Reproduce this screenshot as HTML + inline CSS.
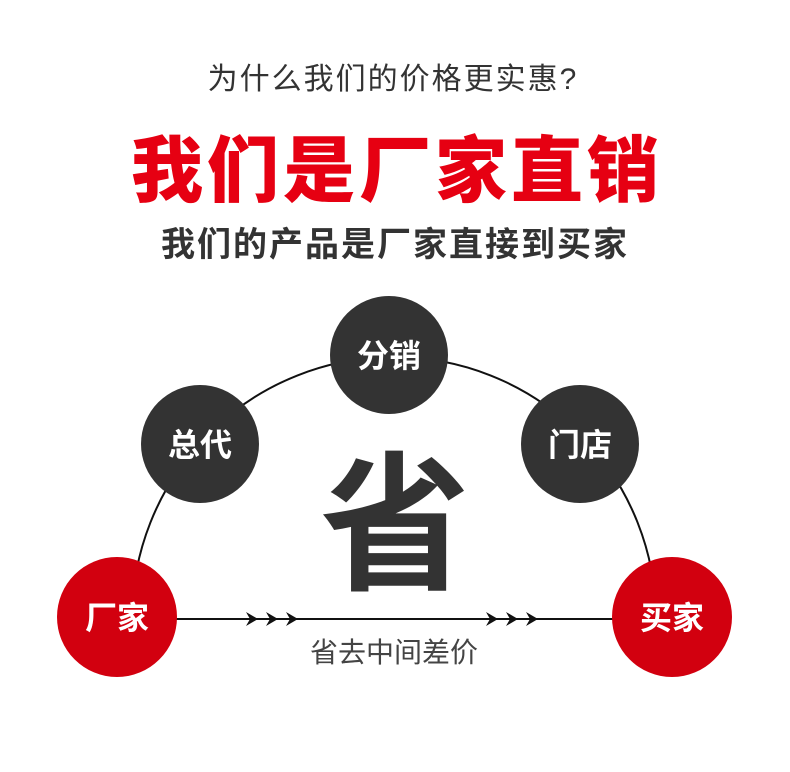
<!DOCTYPE html>
<html><head><meta charset="utf-8"><style>
body{margin:0;width:790px;height:772px;background:#fff;overflow:hidden;position:relative;font-family:"Liberation Sans","Noto Sans CJK SC",sans-serif}
.t{position:absolute;left:0;width:790px;text-align:center;white-space:nowrap;line-height:1}
</style></head><body>
<div class="t" style="top:65px;font-size:30px;color:#333;letter-spacing:2px;left:-2px">为什么我们的价格更实惠?</div>
<div class="t" style="top:136px;font-size:72px;font-weight:900;color:#e60012;letter-spacing:4px;left:2px">我们是厂家直销</div>
<div class="t" style="top:228px;font-size:34px;font-weight:bold;color:#333;letter-spacing:2px;left:0px">我们的产品是厂家直接到买家</div>
<svg width="790" height="772" style="position:absolute;left:0;top:0">
<path d="M132 619 A262 262 0 0 1 656 619" fill="none" stroke="#111" stroke-width="2"/>
<line x1="170" y1="619" x2="620" y2="619" stroke="#111" stroke-width="2"/>
<g fill="#111">
<path d="M246 612 L258 619 L246 626 L250 619Z"/><path d="M266 612 L278 619 L266 626 L270 619Z"/><path d="M286 612 L298 619 L286 626 L290 619Z"/>
<path d="M486 612 L498 619 L486 626 L490 619Z"/><path d="M506 612 L518 619 L506 626 L510 619Z"/><path d="M526 612 L538 619 L526 626 L530 619Z"/>
</g>
<circle cx="389" cy="355" r="59" fill="#333"/>
<circle cx="200" cy="444" r="59" fill="#333"/>
<circle cx="580" cy="444" r="59" fill="#333"/>
<circle cx="117" cy="617" r="60" fill="#d2000f"/>
<circle cx="672" cy="617" r="60" fill="#d2000f"/>
<g font-family="Liberation Sans,Noto Sans CJK SC,sans-serif" font-weight="bold" font-size="32" fill="#fff" text-anchor="middle">
<text x="389" y="367">分销</text><text x="200" y="456">总代</text><text x="580" y="456">门店</text>
<text x="117" y="629">厂家</text><text x="672" y="629">买家</text>
</g>
<text x="395" y="578" text-anchor="middle" font-family="Liberation Sans,Noto Sans CJK SC,sans-serif" font-weight="bold" font-size="150" fill="#333">省</text>
<text x="394" y="662" text-anchor="middle" font-family="Liberation Sans,Noto Sans CJK SC,sans-serif" font-size="28" fill="#444">省去中间差价</text>
</svg>
</body></html>
